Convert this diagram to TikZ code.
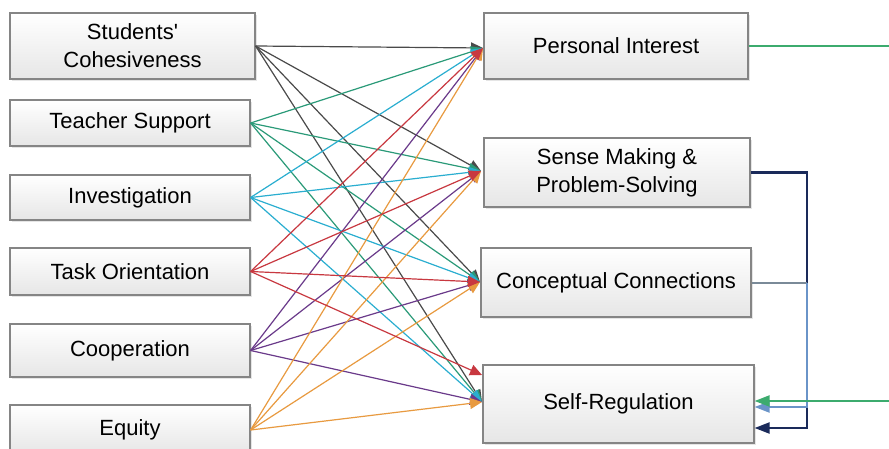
\documentclass[tikz,border=0pt]{standalone}
\usepackage{fontspec}
\setmainfont{Liberation Sans}
\usetikzlibrary{arrows.meta,shadows,calc}
\definecolor{boxline}{HTML}{858585}
\definecolor{boxbot}{HTML}{E6E6E6}
\definecolor{cSC}{HTML}{4A4A4A}
\definecolor{cTS}{HTML}{2A9A78}
\definecolor{cIN}{HTML}{2AAED0}
\definecolor{cTO}{HTML}{C83840}
\definecolor{cCO}{HTML}{6A3A8A}
\definecolor{cEQ}{HTML}{E89A40}
\definecolor{cGreen}{HTML}{3CAB6E}
\definecolor{cNavy}{HTML}{1A2A5A}
\definecolor{cGrey}{HTML}{7A8A98}
\definecolor{cBlue}{HTML}{6A94C8}
\begin{document}
\begin{tikzpicture}[x=0.5pt,y=-0.5pt,
  box/.style={draw=boxline, line width=0.6pt, top color=white, bottom color=boxbot,
    align=center, font=\fontsize{11}{14}\selectfont, inner sep=0pt,
    drop shadow={opacity=0.2, shadow xshift=1pt, shadow yshift=-1pt}},
  link/.style={line width=0.6pt, -{Triangle[length=6pt,width=5.5pt]}},
  fb/.style={line width=1.1pt, -{Triangle[length=7.5pt,width=5.5pt]}}]
\useasboundingbox (0,0) rectangle (889,449);
\clip (0,0) rectangle (889,449);
\fill[white] (0,0) rectangle (889,449);
% left boxes
\node[box, minimum width=122.5pt, minimum height=33pt] (sc) at (132.5,46) {Students\textquotesingle\\Cohesiveness};
\node[box, minimum width=120pt, minimum height=23pt] (ts) at (130,123) {Teacher Support};
\node[box, minimum width=120pt, minimum height=22.5pt] (in) at (130,197.5) {Investigation};
\node[box, minimum width=120pt, minimum height=23.5pt] (to) at (130,271.5) {Task Orientation};
\node[box, minimum width=120pt, minimum height=26.5pt] (co) at (130,350.5) {Cooperation};
\node[box, minimum width=120pt, minimum height=25pt] (eq) at (130,430) {Equity};
% right boxes
\node[box, minimum width=132pt, minimum height=33pt] (pi) at (616,46) {Personal Interest};
\node[box, minimum width=133pt, minimum height=34.5pt] (sm) at (617,172.5) {Sense Making \&\\Problem-Solving};
\node[box, minimum width=135pt, minimum height=34.5pt] (cc) at (616,282.5) {Conceptual Connections};
\node[box, minimum width=135.5pt, minimum height=39pt] (sr) at (618.5,404) {Self-Regulation};
% arrow targets
\coordinate (piin) at (483,48);
\coordinate (smin) at (481,171);
\coordinate (ccin) at (480,282);
\coordinate (srin) at (482,402);
\coordinate (srinR) at (482,375);
% links
\foreach \s/\c in {sc/cSC,ts/cTS,in/cIN,co/cCO,eq/cEQ}{
  \foreach \t in {piin,smin,ccin,srin}{
    \draw[link,\c] (\s.east) -- (\t);
  }
}
\draw[link,cTO] (to.east) -- (piin);
\draw[link,cTO] (to.east) -- (smin);
\draw[link,cTO] (to.east) -- (ccin);
\draw[link,cTO] (to.east) -- (srinR);
% feedback connectors
\coordinate (gr1) at (900,46);
\coordinate (gr2) at (900,401);
\coordinate (nvb) at (807,428);
\coordinate (bl) at (807,407);
\draw[fb,cNavy] (sm.east) -| (nvb) -- (sr.east |- nvb);
\draw[line width=1pt,cGrey] (cc.east) -- (cc.east -| bl);
\draw[fb,cBlue] (cc.east -| bl) -- (bl) -- (sr.east |- bl);
\draw[fb,cGreen] (pi.east) -- (gr1) -- (gr2) -- (sr.east |- gr2);
\end{tikzpicture}
\end{document}
